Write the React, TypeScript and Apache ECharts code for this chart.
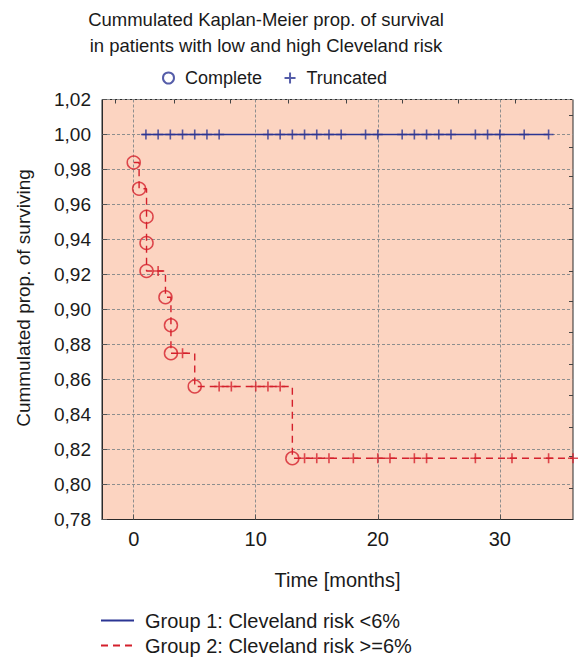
import { useEffect, useRef } from "react";
import * as echarts from "echarts";

const titleLines = [
  "Cummulated Kaplan-Meier prop. of survival",
  "in patients with low and high Cleveland risk",
];
const yAxisTitle = "Cummulated prop. of surviving";
const xAxisTitle = "Time [months]";
const markerLegend = ["Complete", "Truncated"];
const groupOneName = "Group 1: Cleveland risk <6%";
const groupTwoName = "Group 2: Cleveland risk >=6%";

const xTickValues = [0, 10, 20, 30];
const xMin = -2.6;
const xMax = 36;
const yMin = 0.78;
const yMax = 1.02;
const yStep = 0.02;

// Group 1 (low risk): no events, only truncated observations
const groupOneStart = 0.7;
const groupOneEnd = 34;
const groupOneSurvival = 1.0;
const groupOneTruncated = [1, 2, 3, 4, 5, 6, 7, 11, 12, 13, 14, 15, 16, 17, 19, 20, 22, 23, 24, 25, 26, 28, 29, 30, 32, 34];

// Group 2 (high risk): complete observations (events)
const groupTwoEventTimes = [0, 0.44, 1.05, 1.05, 1.05, 2.6, 3.05, 3.05, 5, 13];
const groupTwoEventSurvival = [0.984, 0.969, 0.953, 0.938, 0.922, 0.907, 0.891, 0.875, 0.856, 0.815];
const groupTwoEnd = 36;
const groupTwoTruncated = [2, 4, 7, 8, 10, 11, 12, 14, 15, 16, 18, 20, 21, 23, 24, 28, 31, 34, 36];

// minor ticks drawn on the top and right frame
const topTicks = [-1.5, 3.33, 7.9, 12.65, 17.39, 21.97, 26.63, 31.29];
const rightTicks = [1.011, 0.993, 0.976, 0.958, 0.94, 0.922, 0.905, 0.887, 0.869, 0.851, 0.833, 0.816, 0.798];

const BLUE = "#2b3593";
const RED = "#d4202c";
const FONT = "'Liberation Sans', Arial, Helvetica, sans-serif";
const PLUS = "path://M0,5L10,5M5,0L5,10";

function survivalAt(t: number): number {
  let s = groupTwoEventSurvival[0];
  for (let i = 0; i < groupTwoEventTimes.length; i++) {
    if (groupTwoEventTimes[i] <= t) s = groupTwoEventSurvival[i];
  }
  return s;
}

export default function App() {
  const ref = useRef<HTMLDivElement>(null);

  useEffect(() => {
    if (!ref.current) return;
    const chart = echarts.init(ref.current, null, { renderer: "svg" });

    const groupTwoLine = groupTwoEventTimes.map((t, i) => [t, groupTwoEventSurvival[i]]);
    groupTwoLine.push([groupTwoEnd, groupTwoEventSurvival[groupTwoEventSurvival.length - 1]]);

    const option: any = {
      animation: false,
      backgroundColor: "#ffffff",
      textStyle: { fontFamily: FONT, color: "#1a1a1a" },
      graphic: [
        {
          type: "text",
          x: 266,
          y: 19,
          style: { text: titleLines[0], font: `18.5px ${FONT}`, fill: "#1a1a1a", textAlign: "center", textVerticalAlign: "middle" },
        },
        {
          type: "text",
          x: 266,
          y: 45,
          style: { text: titleLines[1], font: `18.5px ${FONT}`, fill: "#1a1a1a", textAlign: "center", textVerticalAlign: "middle" },
        },
        {
          type: "text",
          x: 23,
          y: 298,
          rotation: Math.PI / 2,
          style: { text: yAxisTitle, font: `19px ${FONT}`, fill: "#1a1a1a", textAlign: "center", textVerticalAlign: "middle" },
        },
      ],
      legend: [
        {
          data: markerLegend,
          left: 162,
          top: 69,
          padding: 0,
          itemWidth: 11,
          itemHeight: 11,
          itemGap: 20,
          selectedMode: false,
          textStyle: { fontSize: 18, fontFamily: FONT, color: "#1a1a1a", padding: [0, 0, 0, 6] },
        },
        {
          data: [groupOneName, groupTwoName],
          orient: "vertical",
          left: 100,
          top: 610.5,
          padding: 0,
          itemWidth: 33,
          itemHeight: 14,
          itemGap: 5,
          selectedMode: false,
          itemStyle: { opacity: 0 },
          textStyle: { fontSize: 20, fontFamily: FONT, color: "#1a1a1a", lineHeight: 20, padding: [0, 0, 0, 6] },
        },
      ],
      grid: {
        left: 102,
        right: 6,
        top: 99.5,
        bottom: 137.5,
        show: true,
        backgroundColor: "#fcd4c1",
        borderColor: "#2a2a2a",
        borderWidth: 1,
      },
      xAxis: [
        {
          type: "value",
          min: xMin,
          max: xMax,
          name: xAxisTitle,
          nameLocation: "middle",
          nameGap: 50,
          nameTextStyle: { fontSize: 20, fontFamily: FONT, color: "#1a1a1a" },
          axisLine: { show: true, onZero: false, lineStyle: { color: "#2a2a2a" } },
          axisTick: { show: true, inside: true, length: 5, customValues: xTickValues, lineStyle: { color: "#555" } },
          axisLabel: { customValues: xTickValues, fontSize: 20, fontFamily: FONT, color: "#1a1a1a", margin: 9 },
          splitLine: { show: true, lineStyle: { color: "#8e8e8e", type: [3, 2], width: 1 } },
        },
        {
          type: "value",
          position: "top",
          min: xMin,
          max: xMax,
          axisLine: { show: false, onZero: false },
          axisTick: { show: true, inside: true, length: 4, customValues: topTicks, lineStyle: { color: "#444" } },
          axisLabel: { show: false },
          splitLine: { show: false },
        },
      ],
      yAxis: [
        {
          type: "value",
          min: yMin,
          max: yMax,
          interval: yStep,
          axisLine: { show: true, onZero: false, lineStyle: { color: "#2a2a2a" } },
          axisTick: { show: true, inside: true, length: 5, lineStyle: { color: "#555" } },
          axisLabel: {
            fontSize: 19,
            fontFamily: FONT,
            color: "#1a1a1a",
            margin: 11,
            formatter: (v: number) => v.toFixed(2).replace(".", ","),
          },
          splitLine: { show: true, lineStyle: { color: "#8e8e8e", type: [3, 2], width: 1 } },
        },
        {
          type: "value",
          position: "right",
          min: yMin,
          max: yMax,
          axisLine: { show: false, onZero: false },
          axisTick: { show: true, inside: true, length: 4, customValues: rightTicks, lineStyle: { color: "#444" } },
          axisLabel: { show: false },
          splitLine: { show: false },
        },
      ],
      series: [
        {
          name: "Complete",
          type: "scatter",
          data: [],
          symbol: "circle",
          itemStyle: { color: "transparent", borderColor: BLUE, borderWidth: 1.5 },
        },
        {
          name: "Truncated",
          type: "scatter",
          data: [],
          symbol: PLUS,
          itemStyle: { color: "none", borderColor: BLUE, borderWidth: 1.6 },
        },
        {
          name: groupOneName,
          type: "line",
          data: [
            [groupOneStart, groupOneSurvival],
            [groupOneEnd, groupOneSurvival],
          ],
          symbol: "none",
          lineStyle: { color: BLUE, width: 1.5, type: "solid" },
          itemStyle: { color: BLUE },
          z: 3,
        },
        {
          name: groupTwoName,
          type: "line",
          step: "end",
          data: groupTwoLine,
          symbol: "none",
          lineStyle: { color: RED, width: 1.4, type: [7, 5] },
          itemStyle: { color: RED },
          z: 3,
        },
        {
          name: "g1-truncated",
          type: "scatter",
          data: groupOneTruncated.map((t) => [t, groupOneSurvival]),
          symbol: PLUS,
          symbolSize: 10,
          itemStyle: { color: "none", borderColor: BLUE, borderWidth: 1.6 },
          z: 4,
        },
        {
          name: "g2-complete",
          type: "scatter",
          data: groupTwoEventTimes.map((t, i) => [t, groupTwoEventSurvival[i]]),
          symbol: "circle",
          symbolSize: 13,
          itemStyle: { color: "transparent", borderColor: RED, borderWidth: 1.5 },
          z: 4,
        },
        {
          name: "g2-truncated",
          type: "scatter",
          data: groupTwoTruncated.map((t) => [t, survivalAt(t)]),
          symbol: PLUS,
          symbolSize: 10,
          itemStyle: { color: "none", borderColor: RED, borderWidth: 1.6 },
          z: 4,
        },
      ],
    };

    chart.setOption(option);
    return () => chart.dispose();
  }, []);

  return <div ref={ref} style={{ width: 579, height: 657, position: "absolute", left: 0, top: 0 }} />;
}
